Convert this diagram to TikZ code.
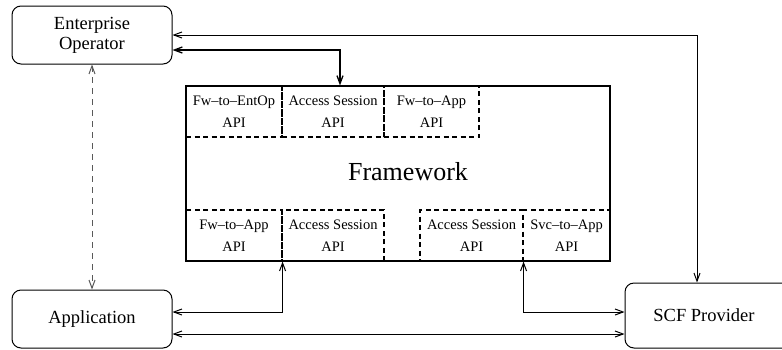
\documentclass[tikz,border=0pt]{standalone}
\usepackage{fontspec}
\setmainfont{Liberation Serif}
\usetikzlibrary{arrows.meta,calc}
\begin{document}
\begin{tikzpicture}[x=1pt,y=-1pt,
  actor/.style={draw,line width=1pt,rounded corners=9pt,inner sep=0pt,
    font=\fontsize{18.5}{21}\selectfont,align=center},
  fwbox/.style={draw,line width=1.2pt,inner sep=0pt,minimum width=424pt,minimum height=175pt},
  apibox/.style={draw,dashed,dash pattern=on 5pt off 3.5pt,line width=1.1pt,inner sep=0pt,
    minimum height=51pt,font=\fontsize{14.5}{22}\selectfont,align=center},
  link/.style={line width=1pt,{Straight Barb[length=8pt,width=6pt]}-{Straight Barb[length=8pt,width=6pt]}},
  boldlink/.style={link,line width=1.3pt},
  dashlink/.style={link,gray!70!black,dash pattern=on 6pt off 5pt}]
\useasboundingbox (0,0) rectangle (782,349);
\clip (0,0) rectangle (782,349);

% actors
\node[actor,minimum width=160pt,minimum height=58pt] (eo) at (92,35) {\raisebox{1.5pt}{\begin{tabular}{@{}c@{}}Enterprise\\[-1pt]Operator\end{tabular}}};
\node[actor,minimum width=160pt,minimum height=58pt] (app) at (92,319) {\raisebox{-2.5pt}{Application}};
\node[actor,minimum width=170pt,minimum height=65pt] (scf) at (710,315.5) {\hspace*{-12pt}\raisebox{-4pt}{SCF Provider}};

% framework with its interfaces
\node[fwbox] (fw) at (398,173.5) {};
\node[font=\fontsize{26}{30}\selectfont] (fwlabel) at (408,172) {Framework};

\node[apibox,minimum width=96pt] (t1) at (234,111.5) {Fw--to--EntOp\\API};
\node[apibox,minimum width=102pt] (t2) at (333,111.5) {Access Session\\API};
\node[apibox,minimum width=95pt] (t3) at (431.5,111.5) {Fw--to--App\\API};

\node[apibox,minimum width=96pt] (b1) at (234,235.5) {Fw--to--App\\API};
\node[apibox,minimum width=102pt] (b2) at (333,235.5) {Access Session\\API};
\node[apibox,minimum width=103pt] (b3) at (471.5,235.5) {Access Session\\API};
\node[apibox,minimum width=87pt] (b4) at (566.5,235.5) {Svc--to--App\\API};

% connectors
\draw[link] (eo.east) -| ([xshift=-13pt]scf.north);
\draw[boldlink] ([yshift=-15pt]eo.east) -| ([xshift=7pt]t2.north);
\draw[dashlink] (eo.south) -- (app.north);
\draw[link] ([yshift=7pt]app.east) -| (b1.south east);
\draw[link] ([yshift=-15pt]app.east) -- ([yshift=-15pt]app.east -| scf.west);
\draw[link] (b3.south east) |- ([yshift=3.5pt]scf.west);
\end{tikzpicture}
\end{document}
